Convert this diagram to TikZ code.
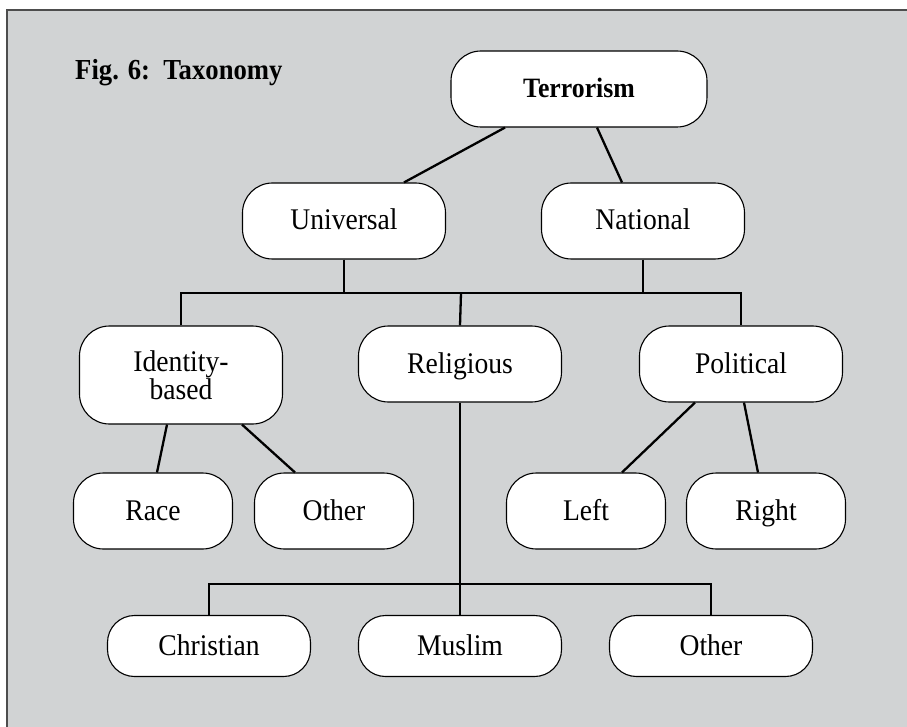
\documentclass[tikz,border=0pt]{standalone}
\usepackage{fontspec}
\setmainfont[FakeStretch=0.92]{Liberation Serif}
\usetikzlibrary{calc}
\definecolor{bggray}{HTML}{D1D3D4}
\definecolor{framegray}{HTML}{4D4D4D}
\tikzset{
  boxnode/.style={draw=black, fill=white, rounded corners=30pt, line width=1.1pt,
    inner sep=0pt, align=center, text height=23pt, text depth=5pt,
    font=\fontsize{30}{29}\selectfont},
  widebox/.style={boxnode, minimum width=203pt, minimum height=76pt},
  smallbox/.style={boxnode, minimum width=159pt, minimum height=76pt},
  lowbox/.style={boxnode, minimum width=203pt, minimum height=61pt, rounded corners=27pt},
  link/.style={draw=black, line width=2.3pt},
}
\begin{document}
\begin{tikzpicture}[x=1pt,y=-1pt]
\useasboundingbox (0,0) rectangle (907,727);
\fill[bggray] (7,10) rectangle (930,750);
\draw[framegray, line width=1.5pt] (930,10) -- (7,10) -- (7,750);

\node[anchor=base west, inner sep=0pt, font=\fontsize{29}{29}\selectfont\bfseries] (title) at (75,80) {Fig. 6:\ \ Taxonomy};

\node[boxnode, minimum width=256pt, minimum height=76pt, font=\fontsize{28}{28}\selectfont\bfseries] (ter) at (579,89) {Terrorism};
\node[widebox] (uni) at (344,221) {Universal};
\node[widebox] (nat) at (643,221) {National};
\node[widebox, minimum height=98pt, text height={}, text depth={}, font=\fontsize{30}{25}\selectfont] (id) at (181,375) {Identity-\\based};
\node[widebox] (rel) at (460,364) {Religious};
\node[widebox] (pol) at (741,364) {Political};
\node[smallbox] (race) at (153,511) {Race};
\node[smallbox] (oth1) at (334,511) {Other};
\node[smallbox] (left) at (586,511) {Left};
\node[smallbox] (right) at (766,511) {Right};
\node[lowbox] (chr) at (209,646) {Christian};
\node[lowbox] (mus) at (460,646) {Muslim};
\node[lowbox] (oth2) at (711,646) {Other};

\coordinate (bus) at (461,293);
\coordinate (bus2) at (461,584);

\path[link] ($(ter.south)+(-74,0)$) -- ($(uni.north)+(60,0)$);
\path[link] ($(ter.south)+(18,0)$) -- ($(nat.north)+(-21,0)$);
\path[link] (uni.south) -- (uni.south |- bus);
\path[link] (nat.south) -- (nat.south |- bus);
\path[link] (id.north) -- (id.north |- bus) -- (pol.north |- bus) -- (pol.north);
\path[link] (bus) -- (rel.north);
\path[link] ($(id.south)+(-14,0)$) -- ($(race.north)+(4,0)$);
\path[link] ($(id.south)+(61,0)$) -- ($(oth1.north)+(-39,0)$);
\path[link] ($(pol.south)+(-46,0)$) -- ($(left.north)+(36,0)$);
\path[link] ($(pol.south)+(3,0)$) -- ($(right.north)+(-8,0)$);
\path[link] (rel.south) -- (mus.north);
\path[link] (chr.north) -- (chr.north |- bus2) -- (oth2.north |- bus2) -- (oth2.north);
\end{tikzpicture}
\end{document}
